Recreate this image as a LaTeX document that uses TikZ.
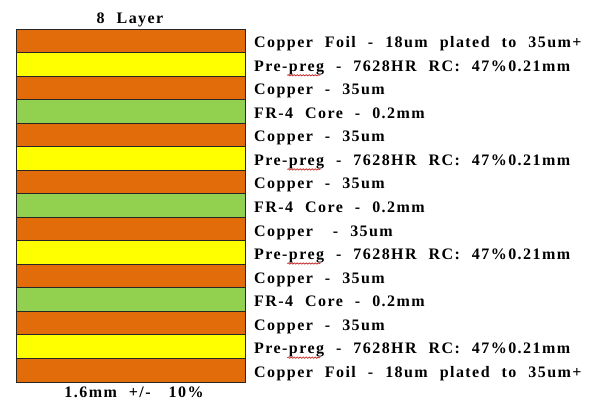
\documentclass[tikz,border=0pt]{standalone}
\usepackage{fontspec}
\usetikzlibrary{decorations.pathmorphing}
\newfontfamily\lblfont[LetterSpace=9]{Liberation Serif}
\newcommand\lblset{\lblfont\bfseries\fontsize{16}{18}\selectfont\spaceskip=12pt\relax}
\definecolor{cu}{RGB}{227,108,10}
\definecolor{pp}{RGB}{255,255,0}
\definecolor{fr}{RGB}{146,208,80}
\definecolor{spellred}{RGB}{205,50,50}
\newlength\prelen
\newlength\preglen
\tikzset{
  layerbox/.style={draw=black!85,line width=0.8pt,minimum width=229pt,minimum height=23.53pt,inner sep=0pt},
  lbl/.style={anchor=base west,inner sep=0pt,font=\lblset},
  spell/.style={draw=spellred,line width=0.8pt,decorate,decoration={snake,amplitude=0.6pt,segment length=3pt}}
}
\begin{document}
\settowidth{\prelen}{\lblset Pre-}%
\settowidth{\preglen}{\lblset preg}%
\begin{tikzpicture}[x=1pt,y=-1pt]
\useasboundingbox (0,0) rectangle (600,403);
\fill[white] (0,0) rectangle (600,403);
\foreach \lcol/\ltxt [count=\li from 0] in {
  cu/{Copper Foil - 18um plated to 35um+},
  pp/{Pre-preg - 7628HR RC: 47\%0.21mm},
  cu/{Copper - 35um},
  fr/{FR-4 Core - 0.2mm},
  cu/{Copper - 35um},
  pp/{Pre-preg - 7628HR RC: 47\%0.21mm},
  cu/{Copper - 35um},
  fr/{FR-4 Core - 0.2mm},
  cu/{Copper\hspace{8pt} - 35um},
  pp/{Pre-preg - 7628HR RC: 47\%0.21mm},
  cu/{Copper - 35um},
  fr/{FR-4 Core - 0.2mm},
  cu/{Copper - 35um},
  pp/{Pre-preg - 7628HR RC: 47\%0.21mm},
  cu/{Copper Foil - 18um plated to 35um+}}{
  \node[layerbox,fill=\lcol] (L\li) at (130.5,{29+23.53*(\li+0.5)}) {};
  \node[lbl] (T\li) at (254,{29+23.53*(\li+0.5)+7}) {\ltxt};
}
\foreach \li in {1,5,9,13}{
  \coordinate (u\li) at ([xshift=\prelen,yshift=-4pt]T\li.base west);
  \coordinate (v\li) at ([xshift=\prelen+\preglen-2pt,yshift=-4pt]T\li.base west);
  \draw[spell] (u\li) -- (v\li);
}
\node[lbl,anchor=base] (title) at (130,24) {8 Layer};
\node[lbl,anchor=base] (thick) at (134,398) {1.6mm +/-\hspace{6pt} 10\%};
\end{tikzpicture}
\end{document}
